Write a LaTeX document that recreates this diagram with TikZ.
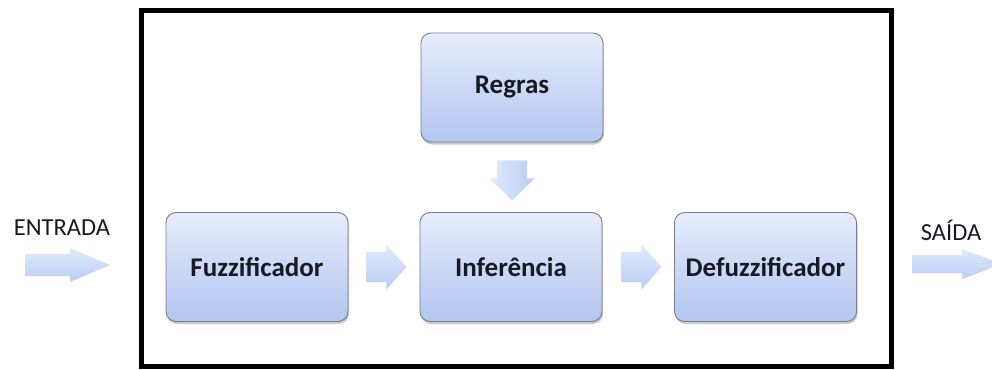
\documentclass[tikz,border=0pt]{standalone}
\usepackage{fontspec}
\setmainfont{Carlito}
\usetikzlibrary{calc,shadows}
\definecolor{boxtop}{RGB}{230,236,251}
\definecolor{boxbot}{RGB}{178,198,240}
\definecolor{boxline}{RGB}{118,126,140}
\definecolor{arrtop}{RGB}{224,234,252}
\definecolor{arrbot}{RGB}{186,205,243}
\definecolor{txt}{RGB}{25,25,35}
\tikzset{
  blockbox/.style={draw=boxline, line width=0.9pt, rounded corners=10pt,
    top color=boxtop, bottom color=boxbot,
    minimum width=182pt, minimum height=109pt, inner sep=0pt,
    font=\fontsize{27}{30}\selectfont\bfseries, text=txt,
    drop shadow={shadow xshift=1pt, shadow yshift=-2.5pt, opacity=0.35, fill=black!60}},
  arrshade/.style={top color=arrtop, bottom color=arrbot, draw=none},
  arrshadev/.style={left color=arrtop, right color=arrbot, draw=none},
  plainlabel/.style={font=\fontsize{24.5}{28}\selectfont, text=txt, inner sep=0pt},
  framebox/.style={draw=black, line width=5pt}
}
\begin{document}
\begin{tikzpicture}[x=1pt,y=-1pt]
\useasboundingbox (0,0) rectangle (992,369);
\fill[white] (0,0) rectangle (992,369);
% frame
\draw[framebox] (141,10.5) rectangle (891,366.5);
% boxes
\node[blockbox] (regras) at (512,87.5) {Regras};
\node[blockbox] (fuzz) at (257,267) {Fuzzificador};
\node[blockbox] (inf) at (511,267) {Inferência};
\node[blockbox] (defuzz) at (765.5,267) {Defuzzificador};
% labels
\node[plainlabel] (entrada) at (62,228) {ENTRADA};
\node[plainlabel] (saida) at (951,230) {SAÍDA};
\coordinate (inL) at (25,265);
\coordinate (outL) at (912,264);
% block arrows
\shade[arrshade] (inL) ++(0,-11) -- ++(45,0) -- ++(0,-6) -- ++(40,17) -- ++(-40,17) -- ++(0,-6) -- ++(-45,0) -- cycle;
\shade[arrshade] ($(fuzz.east)+(18,0)$) ++(0,-15) -- ++(20,0) -- ++(0,-7.5) -- ++(20,22.5) -- ++(-20,22.5) -- ++(0,-7.5) -- ++(-20,0) -- cycle;
\shade[arrshade] ($(inf.east)+(19,0)$) ++(0,-15) -- ++(20,0) -- ++(0,-7.5) -- ++(20,22.5) -- ++(-20,22.5) -- ++(0,-7.5) -- ++(-20,0) -- cycle;
\shade[arrshadev] ($(regras.south)+(0,18)$) ++(-15,0) -- ++(0,18) -- ++(-7.5,0) -- ++(22.5,22) -- ++(22.5,-22) -- ++(-7.5,0) -- ++(0,-18) -- cycle;
\shade[arrshade] (outL) ++(0,-9) -- ++(50,0) -- ++(0,-6) -- ++(40,15) -- ++(-40,15) -- ++(0,-6) -- ++(-50,0) -- cycle;
\end{tikzpicture}
\end{document}
